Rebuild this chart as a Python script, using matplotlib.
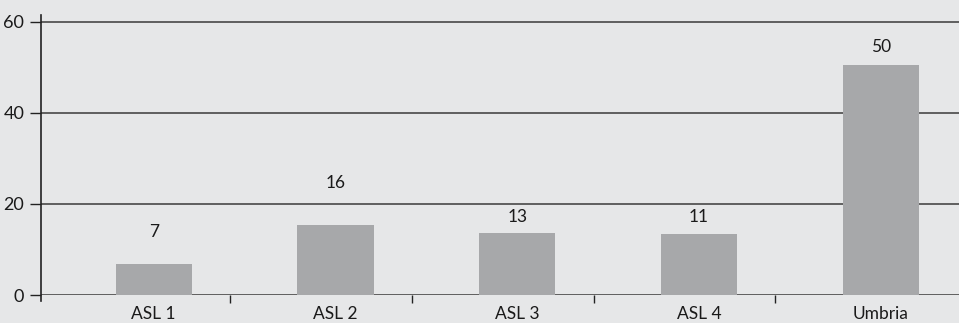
import matplotlib
matplotlib.use("Agg")
import matplotlib.pyplot as plt
import numpy as np

categories = ["ASL 1", "ASL 2", "ASL 3", "ASL 4", "Umbria"]
bar_values = [6.8, 15.4, 13.6, 13.4, 50.5]
label_texts = ["7", "16", "13", "11", "50"]
label_offsets = [7.0, 9.2, 3.5, 3.7, 4.0]
y_ticks = [0, 20, 40, 60]

plt.rcParams['font.family'] = ['Lato', 'DejaVu Sans']

bg = "#e6e7e8"
fig = plt.figure(figsize=(9.59, 3.23), dpi=100, facecolor=bg)
W, H = 959, 323
ax = fig.add_axes([41 / W, 1 - 295 / H, 1 - 41 / W, (295 - 15) / H])
ax.set_facecolor(bg)

x = np.arange(len(categories))
ax.bar(x, bar_values, width=0.42, color="#a7a8aa", zorder=3)
for xi, v, t, off in zip(x, bar_values, label_texts, label_offsets):
    ax.text(xi, v + off, t, ha="center", va="center", fontsize=12.5, color="#1a1a1a", zorder=4)

ax.set_xlim(-0.62, 4.43)
ax.set_ylim(0, 61.5)

for yv in y_ticks:
    ax.axhline(yv, color="#3a3a3a", lw=1.1, zorder=2)

for s in ["top", "right", "bottom", "left"]:
    ax.spines[s].set_visible(False)
ax.plot([0, 0], [-6 / 280, 1], transform=ax.transAxes, color="#222222", lw=1.2, clip_on=False, zorder=5)

ax.set_yticks(y_ticks)
ax.set_yticklabels([str(v) for v in y_ticks], fontsize=13, color="#1a1a1a")
ax.tick_params(axis="y", length=8, width=1, color="#222222", pad=4)

ax.set_xticks(x)
ax.set_xticklabels(categories, fontsize=12.5, color="#1a1a1a")
ax.tick_params(axis="x", which="major", length=0, pad=8)
ax.set_xticks(x[:-1] + 0.42, minor=True)
ax.tick_params(axis="x", which="minor", length=6, width=1, color="#222222")

fig.savefig("out.png", dpi=100, facecolor=bg)
